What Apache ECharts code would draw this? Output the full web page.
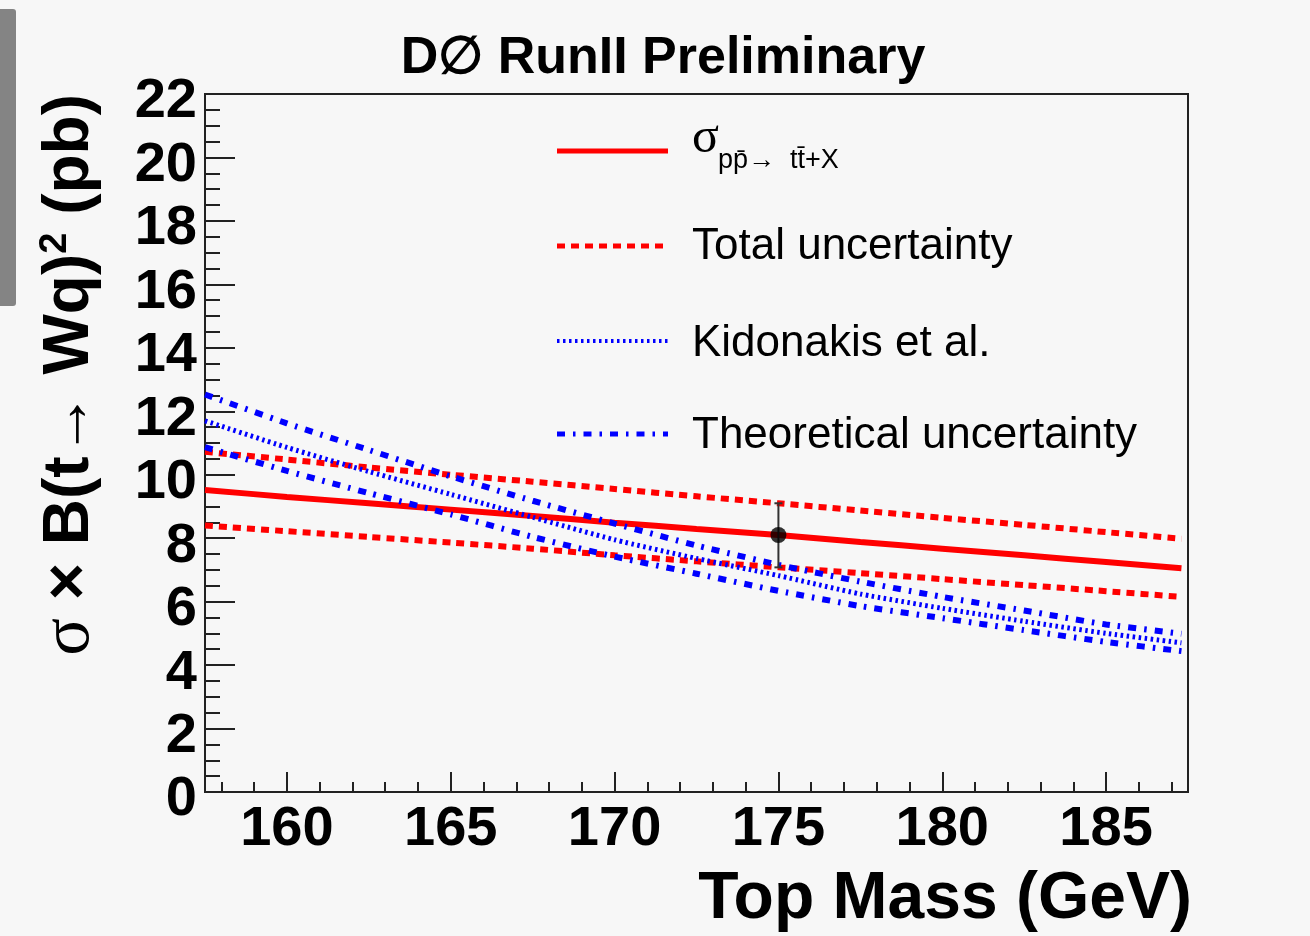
<!DOCTYPE html>
<html>
<head>
<meta charset="utf-8">
<script src="https://cdn.jsdelivr.net/npm/echarts@6/dist/echarts.min.js"></script>
<style>
  html, body { margin: 0; padding: 0; background: #f7f7f7; }
  #chart { width: 1310px; height: 936px; }
</style>
</head>
<body>
<div id="chart"></div>
<script>
// Top-quark mass points (GeV) at which the curves are sampled
const topMass = [157.5, 160, 162.5, 165, 167.5, 170, 172.5, 175, 177.5, 180, 182.5, 185, 187.3];

// Measured cross section curve and its total uncertainty band (pb)
const xsecCentral = [9.52, 9.30, 9.10, 8.90, 8.70, 8.49, 8.29, 8.10, 7.88, 7.67, 7.46, 7.25, 7.05];
const xsecTotalUp = [10.72, 10.48, 10.23, 10.00, 9.78, 9.55, 9.32, 9.10, 8.87, 8.64, 8.42, 8.19, 7.98];
const xsecTotalDown = [8.40, 8.22, 8.04, 7.86, 7.67, 7.46, 7.27, 7.08, 6.90, 6.71, 6.52, 6.33, 6.15];

// Theory prediction (Kidonakis et al.) and its uncertainty (pb)
const kidonakis = [11.70, 10.86, 10.10, 9.38, 8.66, 7.95, 7.36, 6.82, 6.24, 5.79, 5.38, 5.00, 4.70];
const theoryUp = [12.53, 11.62, 10.78, 9.95, 9.18, 8.46, 7.77, 7.16, 6.63, 6.15, 5.72, 5.28, 4.99];
const theoryDown = [10.87, 10.12, 9.42, 8.75, 8.04, 7.42, 6.88, 6.34, 5.86, 5.48, 5.10, 4.73, 4.44];

// Measurement at the reference mass
const measMass = [175];
const measXsec = [8.10];
const measLow = [7.08];
const measHigh = [9.10];

// Axis ticks
const xMajorTicks = [160, 165, 170, 175, 180, 185];
const xMinorTicks = [158, 159, 160, 161, 162, 163, 164, 165, 166, 167, 168, 169, 170, 171, 172,
                     173, 174, 175, 176, 177, 178, 179, 180, 181, 182, 183, 184, 185, 186, 187];

// Legend labels
const legendLabels = ['Total uncertainty', 'Kidonakis et al.', 'Theoretical uncertainty'];

const FONT = 'Liberation Sans, Arial, Helvetica, sans-serif';
const AXIS_COLOR = '#222';
const RED = '#ff0000';
const BLUE = '#0000ff';

const pairs = (ys) => topMass.map((m, i) => [m, ys[i]]);

function curve(name, ys, color, width, type) {
  return {
    name: name,
    type: 'line',
    data: pairs(ys),
    showSymbol: false,
    symbol: 'none',
    smooth: 0.2,
    silent: true,
    clip: true,
    lineStyle: { color: color, width: width, type: type, cap: 'butt' }
  };
}

const DOT = [2.5, 3.5];
const DASH = [8, 6];
const DASHDOT = [8, 8, 2.5, 8];

const chart = echarts.init(document.getElementById('chart'), null, { renderer: 'canvas' });

chart.setOption({
  backgroundColor: '#f7f7f7',
  animation: false,
  grid: {
    left: 205, top: 94, right: 122, bottom: 144,
    show: true, borderColor: AXIS_COLOR, borderWidth: 2, backgroundColor: 'transparent'
  },
  xAxis: [
    {
      type: 'value', min: 157.5, max: 187.5, position: 'bottom',
      axisLine: { show: true, onZero: false, lineStyle: { color: AXIS_COLOR, width: 2 } },
      axisTick: { show: true, inside: true, length: 20, customValues: xMajorTicks,
                  lineStyle: { color: AXIS_COLOR, width: 2 } },
      axisLabel: { show: true, customValues: xMajorTicks, margin: 10,
                   fontFamily: FONT, fontWeight: 'bold', fontSize: 56, color: '#000' },
      splitLine: { show: false }
    },
    {
      type: 'value', min: 157.5, max: 187.5, position: 'bottom',
      axisLine: { show: false, onZero: false },
      axisTick: { show: true, inside: true, length: 10, customValues: xMinorTicks,
                  lineStyle: { color: AXIS_COLOR, width: 2 } },
      axisLabel: { show: false },
      splitLine: { show: false }
    }
  ],
  yAxis: {
    type: 'value', min: 0, max: 22, interval: 2,
    axisLine: { show: true, onZero: false, lineStyle: { color: AXIS_COLOR, width: 2 } },
    axisTick: { show: true, inside: true, length: 30, lineStyle: { color: AXIS_COLOR, width: 2 } },
    minorTick: { show: true, splitNumber: 4, length: 15, lineStyle: { color: AXIS_COLOR, width: 2 } },
    axisLabel: { margin: 8, fontFamily: FONT, fontWeight: 'bold', fontSize: 56, color: '#000',
                 verticalAlign: 'top', lineHeight: 16 },
    splitLine: { show: false }
  },
  series: [
    curve('central', xsecCentral, RED, 6, 'solid'),
    curve('totalUp', xsecTotalUp, RED, 6, DASH),
    curve('totalDown', xsecTotalDown, RED, 6, DASH),
    curve('kidonakis', kidonakis, BLUE, 5, DOT),
    curve('theoryUp', theoryUp, BLUE, 6, DASHDOT),
    curve('theoryDown', theoryDown, BLUE, 6, DASHDOT),
    {
      name: 'errorBar',
      type: 'custom',
      silent: true,
      data: measMass.map((m, i) => [m, measLow[i], measHigh[i]]),
      renderItem: function (params, api) {
        const lo = api.coord([api.value(0), api.value(1)]);
        const hi = api.coord([api.value(0), api.value(2)]);
        const st = { stroke: '#333', lineWidth: 2 };
        return {
          type: 'group',
          children: [
            { type: 'line', shape: { x1: lo[0], y1: lo[1], x2: hi[0], y2: hi[1] }, style: st },
            { type: 'line', shape: { x1: lo[0] - 4, y1: lo[1], x2: lo[0] + 4, y2: lo[1] }, style: st },
            { type: 'line', shape: { x1: hi[0] - 4, y1: hi[1], x2: hi[0] + 4, y2: hi[1] }, style: st }
          ]
        };
      },
      z: 5
    },
    {
      name: 'measurement',
      type: 'scatter',
      data: measMass.map((m, i) => [m, measXsec[i]]),
      symbol: 'circle',
      symbolSize: 16,
      itemStyle: { color: '#000' },
      silent: true,
      z: 6
    }
  ],
  graphic: [
    // side tab on the left edge
    { type: 'rect', shape: { x: 0, y: 9, width: 16, height: 297, r: [0, 3, 3, 0] },
      style: { fill: '#848484' }, silent: true },
    // title
    { type: 'text', x: 663, y: 59,
      style: { text: 'D\u2205 RunII Preliminary', fontFamily: FONT, fontWeight: 'bold', fontSize: 52,
               fill: '#000', align: 'center', verticalAlign: 'middle' } },
    // x axis title
    { type: 'text', x: 1192, y: 900,
      style: { text: 'Top Mass (GeV)', fontFamily: FONT, fontWeight: 'bold', fontSize: 66,
               fill: '#000', align: 'right', verticalAlign: 'middle' } },
    // y axis title
    { type: 'text', x: 70, y: 94, rotation: Math.PI / 2,
      style: {
        text: '{s|\u03C3}{n| \u00D7 B(t\u2192 Wq)}{sup|2}{n| (pb)}',
        align: 'right', verticalAlign: 'middle',
        rich: {
          s: { fontFamily: 'Liberation Serif, serif', fontSize: 70, fill: '#000', lineHeight: 66 },
          n: { fontFamily: FONT, fontWeight: 'bold', fontSize: 64, fill: '#000', lineHeight: 66 },
          sup: { fontFamily: FONT, fontWeight: 'bold', fontSize: 38, fill: '#000',
                 verticalAlign: 'top', lineHeight: 40 }
        }
      } },
    // legend samples
    { type: 'line', shape: { x1: 557, y1: 151, x2: 668, y2: 151 },
      style: { stroke: RED, lineWidth: 5 } },
    { type: 'line', shape: { x1: 557, y1: 246, x2: 668, y2: 246 },
      style: { stroke: RED, lineWidth: 5, lineDash: DASH } },
    { type: 'line', shape: { x1: 557, y1: 341, x2: 668, y2: 341 },
      style: { stroke: BLUE, lineWidth: 4, lineDash: DOT } },
    { type: 'line', shape: { x1: 557, y1: 434, x2: 668, y2: 434 },
      style: { stroke: BLUE, lineWidth: 5, lineDash: DASHDOT } },
    // legend labels
    { type: 'text', x: 692, y: 139,
      style: { text: '\u03C3', fontFamily: 'Liberation Serif, serif', fontSize: 50, fill: '#000',
               align: 'left', verticalAlign: 'middle' } },
    { type: 'text', x: 718, y: 161,
      style: { text: 'pp\u0304\u2192  tt\u0304+X', fontFamily: FONT, fontSize: 27, fill: '#000',
               align: 'left', verticalAlign: 'middle' } },
    { type: 'text', x: 692, y: 247,
      style: { text: legendLabels[0], fontFamily: FONT, fontSize: 44, fill: '#000',
               align: 'left', verticalAlign: 'middle' } },
    { type: 'text', x: 692, y: 344,
      style: { text: legendLabels[1], fontFamily: FONT, fontSize: 44, fill: '#000',
               align: 'left', verticalAlign: 'middle' } },
    { type: 'text', x: 692, y: 436,
      style: { text: legendLabels[2], fontFamily: FONT, fontSize: 44, fill: '#000',
               align: 'left', verticalAlign: 'middle' } }
  ]
});
</script>
</body>
</html>
